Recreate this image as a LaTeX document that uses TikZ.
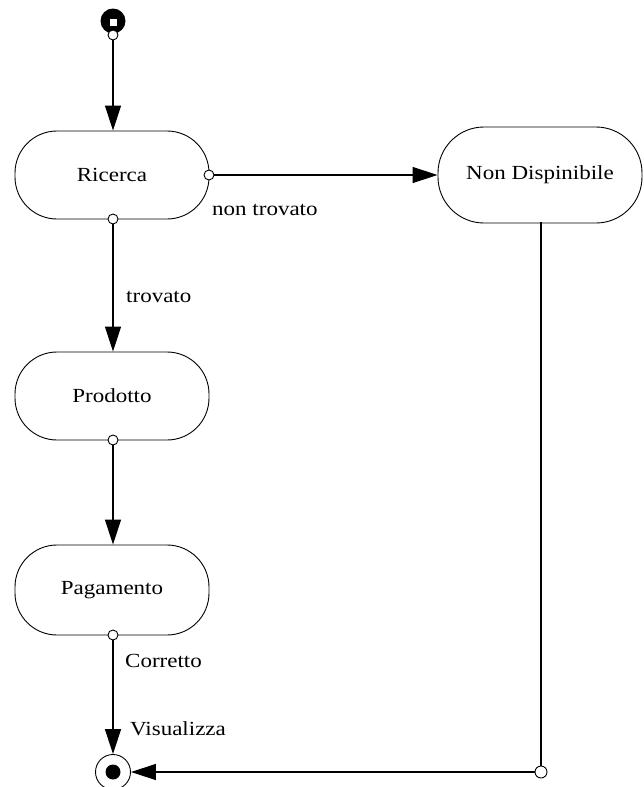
\documentclass[tikz,border=0pt]{standalone}
\usepackage{fontspec}
\setmainfont{Liberation Serif}[FakeStretch=1.15]
\usetikzlibrary{arrows.meta}
\tikzset{
  state/.style={draw=black,line width=0.9pt,rounded corners=42pt,minimum width=194pt,minimum height=88pt,inner sep=0pt,font=\fontsize{20}{23}\selectfont,fill=white},
  port/.style={circle,draw=black,fill=white,line width=0.9pt,minimum size=10pt,inner sep=0pt},
  flow/.style={draw=black,line width=1.2pt,-{Triangle[length=25pt,width=16pt]}},
  lbl/.style={anchor=west,inner sep=0pt,font=\fontsize{20}{23}\selectfont}
}
\begin{document}
\begin{tikzpicture}[x=1pt,y=-1pt]
\useasboundingbox (0,0) rectangle (643,787);
% start
\node[circle,fill=black,minimum size=25pt,inner sep=0pt] (start) at (113,21) {};
\node[fill=white,minimum size=7pt,inner sep=0pt] (startsq) at (113,22) {};
% states
\node[state] (ric) at (112,175) {Ricerca};
\node[state,minimum width=204pt,minimum height=96pt,rounded corners=46pt] (nd) at (540,175) {Non Dispinibile};
\node[state] (prod) at (112,396) {Prodotto};
\node[state,minimum height=90pt] (pag) at (112,590) {Pagamento};
% end
\node[circle,draw=black,line width=0.9pt,fill=white,minimum size=35pt,inner sep=0pt] (fin) at (113,772) {};
\node[circle,fill=black,minimum size=15pt,inner sep=0pt] (findot) at (113,772) {};
% ports
\coordinate (ricS) at (113,219);
\coordinate (ricE) at (209,175);
\coordinate (prodS) at (113,440);
\coordinate (pagS) at (113,635);
\coordinate (ndS) at (541,222);
\coordinate (corner) at (541,772);
% connectors
\draw[flow] (113,35) -- (ric.north -| 113,0);
\draw[flow] (ricE) -- (nd.west);
\draw[flow] (ricS) -- (prod.north -| 113,0);
\draw[flow] (prodS) -- (pag.north -| 113,0);
\draw[flow] (pagS) -- (fin.north);
\draw[black,line width=2.6pt] (ndS) -- (corner);
\draw[flow] (corner) -- (fin.east);
% port circles
\node[port] (p0) at (113,35) {};
\node[port] (p1) at (ricE) {};
\node[port] (p2) at (ricS) {};
\node[port] (p3) at (prodS) {};
\node[port] (p4) at (pagS) {};
\node[port,minimum size=12pt] (p5) at (corner) {};
% labels
\node[lbl] (l1) at (212,210) {non trovato};
\node[lbl] (l2) at (126,297) {trovato};
\node[lbl] (l3) at (125,661) {Corretto};
\node[lbl] (l4) at (130,729) {Visualizza};
\end{tikzpicture}
\end{document}
